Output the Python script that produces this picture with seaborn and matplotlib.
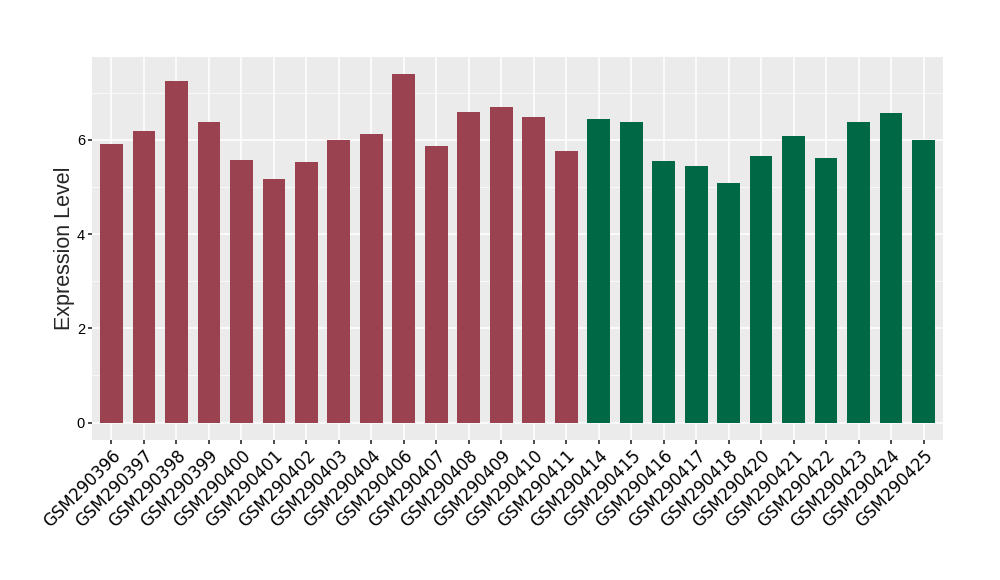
import matplotlib
matplotlib.use("Agg")
import matplotlib.pyplot as plt
import numpy as np
import pandas as pd
import seaborn as sns
from matplotlib.ticker import MultipleLocator

# Sample IDs and expression levels
samples = [
    "GSM290396", "GSM290397", "GSM290398", "GSM290399", "GSM290400",
    "GSM290401", "GSM290402", "GSM290403", "GSM290404", "GSM290406",
    "GSM290407", "GSM290408", "GSM290409", "GSM290410", "GSM290411",
    "GSM290414", "GSM290415", "GSM290416", "GSM290417", "GSM290418",
    "GSM290420", "GSM290421", "GSM290422", "GSM290423", "GSM290424",
    "GSM290425",
]
expression = [
    5.92, 6.19, 7.26, 6.39, 5.58, 5.16, 5.54, 6.00, 6.13, 7.39,
    5.88, 6.60, 6.69, 6.48, 5.76,
    6.45, 6.39, 5.56, 5.44, 5.08, 5.65, 6.09, 5.61, 6.37, 6.58, 6.00,
]
groups = ["group1"] * 15 + ["group2"] * 11
group_colors = {"group1": "#9a4250", "group2": "#016846"}

df = pd.DataFrame({"sample": samples, "expression": expression, "group": groups})

sns.set_theme(style="darkgrid")
plt.rcParams["font.family"] = ["Liberation Sans", "DejaVu Sans"]

fig = plt.figure(figsize=(10, 5.8), dpi=100)
ax = fig.add_axes([0.092, 0.2414, 0.851, 0.6603])
ax.set_facecolor("#ebebeb")

sns.barplot(
    data=df, x="sample", y="expression", hue="group",
    palette=group_colors, width=0.7, dodge=False, legend=False,
    saturation=1, linewidth=0, ax=ax,
)

ax.set_xlim(-0.6, len(samples) - 0.4)
ax.set_ylim(-0.37, 7.76)
ax.yaxis.set_major_locator(MultipleLocator(2))
ax.yaxis.set_minor_locator(MultipleLocator(1))
ax.grid(which="major", color="white", linewidth=1.1)
ax.grid(which="minor", axis="y", color="white", linewidth=0.5)
ax.set_axisbelow(True)
for s in ax.spines.values():
    s.set_visible(False)

ax.tick_params(axis="both", which="major", length=3, color="#333333",
               labelcolor="black", pad=2, bottom=True, left=True)
ax.tick_params(axis="y", which="major", labelsize=10.5)
ax.tick_params(axis="y", which="minor", length=0)
for lbl in ax.get_xticklabels():
    lbl.set_family("DejaVu Sans")
    lbl.set_fontsize(12)
    lbl.set_rotation(45)
    lbl.set_ha("right")
    lbl.set_rotation_mode("anchor")

ax.set_xlabel("")
ax.set_ylabel("Expression Level", fontsize=15.5, labelpad=1)

fig.savefig("out.png", dpi=100)
